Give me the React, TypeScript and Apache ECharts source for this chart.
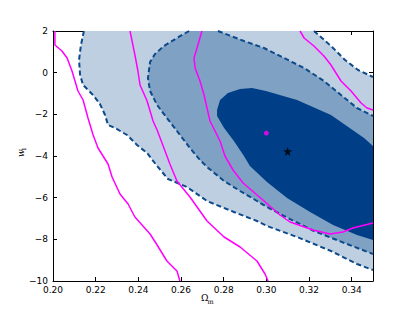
import React, { useEffect, useRef } from "react";
import * as echarts from "echarts";

// Axis ticks
const xTicks = { min: 0.2, max: 0.35, interval: 0.02 };
const yTicks = { min: -10, max: 2, interval: 2 };

// Outer (light) contour: lower-left boundary (dashed) and upper-right boundary (dashed)
const outerLower: number[][] = [
  [0.2145, 2], [0.2131, 1.328], [0.2122, 0.608], [0.2127, -0.112], [0.2141, -0.592],
  [0.2188, -1.072], [0.222, -1.504], [0.2244, -2.032], [0.2258, -2.512], [0.2291, -2.656],
  [0.2347, -2.992], [0.2394, -3.472], [0.2441, -3.856], [0.2488, -4.48], [0.2539, -5.104],
  [0.2595, -5.344], [0.2628, -5.488], [0.2722, -6.16], [0.2848, -6.688], [0.2956, -7.12],
  [0.3003, -7.36], [0.3144, -7.888], [0.3303, -8.56], [0.3425, -9.184], [0.35, -9.472],
];
const outerUpper: number[][] = [
  [0.3223, 2], [0.3261, 1.664], [0.3308, 1.232], [0.3369, 0.608], [0.343, 0.128], [0.35, -0.208],
];

// Middle contour
const midLower: number[][] = [
  [0.2638, 2], [0.2581, 1.664], [0.252, 1.28], [0.2478, 0.896], [0.2455, 0.512],
  [0.2445, -0.256], [0.2455, -0.88], [0.2488, -1.552], [0.2534, -2.176], [0.2581, -2.8],
  [0.2642, -3.616], [0.2689, -4.192], [0.2722, -4.528], [0.2802, -5.2], [0.2877, -5.68],
  [0.2956, -6.16], [0.3003, -6.448], [0.3083, -6.88], [0.3223, -7.6], [0.3378, -8.224],
  [0.35, -8.704],
];
const midUpper: number[][] = [
  [0.2773, 2], [0.2895, 1.52], [0.2989, 1.184], [0.3083, 0.704], [0.3177, 0.224],
  [0.327, -0.4], [0.335, -1.072], [0.3425, -1.696], [0.35, -2.08],
];

// Inner (dark) contour, closed
const inner: number[][] = [
  [0.2769, -1.792], [0.2783, -1.312], [0.282, -0.976], [0.2877, -0.784], [0.2933, -0.736],
  [0.2998, -0.88], [0.3144, -1.312], [0.3303, -2.032], [0.3458, -3.136], [0.35, -3.52],
  [0.35, -8.032], [0.3425, -7.792], [0.3313, -7.312], [0.3205, -6.688], [0.3097, -6.016],
  [0.3003, -5.248], [0.2923, -4.48], [0.2895, -4.0], [0.2848, -3.28], [0.2802, -2.656],
  [0.2769, -2.08],
];

// Magenta contour lines
const magenta1: number[][] = [
  [0.2009, 2], [0.2009, 1.328], [0.2042, 1.04], [0.2066, 0.704], [0.2089, 0.08],
  [0.2117, -0.88], [0.2141, -1.312], [0.2164, -2.176], [0.2188, -2.992], [0.2211, -3.616],
  [0.2258, -4.384], [0.2277, -5.008], [0.2314, -5.824], [0.2352, -6.304], [0.2384, -6.928],
  [0.2455, -7.744], [0.2488, -8.272], [0.2534, -9.04], [0.2581, -9.52], [0.2595, -10],
];
const magenta2: number[][] = [
  [0.2361, 2], [0.2384, 0.848], [0.2398, 0.08], [0.2408, -0.592], [0.2441, -1.36],
  [0.2469, -2.32], [0.2488, -2.752], [0.2534, -4.0], [0.2548, -4.384], [0.2581, -5.2],
  [0.2642, -5.968], [0.2722, -7.12], [0.2802, -7.888], [0.2877, -8.368], [0.2956, -9.04],
  [0.2994, -9.664], [0.3008, -10],
];
const magenta3: number[][] = [
  [0.2698, 2], [0.2675, 1.184], [0.2661, 0.704], [0.2666, 0.224], [0.2689, -0.4],
  [0.2708, -1.072], [0.2736, -2.32], [0.2783, -3.28], [0.2806, -4.0], [0.2844, -4.672],
  [0.2891, -5.296], [0.2984, -6.112], [0.3064, -6.832], [0.3111, -7.168], [0.3219, -7.552],
  [0.3298, -7.744], [0.3359, -7.648], [0.3406, -7.456], [0.35, -7.216],
];
const magenta4: number[][] = [
  [0.3158, 2], [0.3177, 1.664], [0.3223, 1.28], [0.327, 0.8], [0.3303, 0.368],
  [0.335, -0.4], [0.3397, -0.88], [0.3444, -1.456], [0.3472, -1.696], [0.35, -1.792],
];

const magentaPoint: number[][] = [[0.3, -2.9]];
const starPoint: number[][] = [[0.31, -3.78]];

const LIGHT = "#bfcfe2";
const MID = "#7fa1c4";
const DARK = "#003f87";
const DASH = "#0d4a8a";
const MAG = "#ff00ff";

const STAR =
  "path://M0,-10 L2.35,-3.24 L9.51,-3.09 L3.8,1.24 L5.88,8.09 L0,4 L-5.88,8.09 L-3.8,1.24 L-9.51,-3.09 L-2.35,-3.24 Z";

function polySeries(pts: number[][], color: string, z: number) {
  return {
    type: "custom",
    coordinateSystem: "cartesian2d",
    data: [pts[0]],
    clip: true,
    silent: true,
    z,
    renderItem: (_p: any, api: any) => ({
      type: "polygon",
      shape: { points: pts.map((p) => api.coord(p)) },
      style: { fill: color, stroke: "none" },
    }),
  };
}

function lineSeries(pts: number[][], color: string, width: number, dashed: boolean, z: number) {
  return {
    type: "line",
    data: pts,
    showSymbol: false,
    symbol: "none",
    clip: true,
    silent: true,
    z,
    lineStyle: { color, width, type: dashed ? [5, 3] : "solid" },
  };
}

export default function App() {
  const ref = useRef<HTMLDivElement>(null);
  useEffect(() => {
    if (!ref.current) return;
    const chart = echarts.init(ref.current, undefined, { renderer: "svg" });
    const fmtX = (v: number) => (Math.abs(v - 0.35) < 1e-9 ? "" : v.toFixed(2));
    const fmtY = (v: number) => (v < 0 ? "\u2212" + String(-v) : String(v));
    const labelFont = { fontFamily: "DejaVu Sans", fontSize: 9, color: "#000" };
    const axisLine = { show: true, onZero: false, lineStyle: { color: "#000", width: 1 } };
    const tick = { show: true, inside: true, length: 4, lineStyle: { color: "#000", width: 1 } };
    const lightPoly = [...outerLower, ...outerUpper.slice().reverse()];
    const midPoly = [...midLower, ...midUpper.slice().reverse()];
    chart.setOption({
      animation: false,
      backgroundColor: "#fff",
      grid: { left: 53, top: 31, width: 320, height: 250, containLabel: false },
      xAxis: [
        {
          type: "value", position: "bottom", ...xTicks,
          axisLine, axisTick: tick, splitLine: { show: false },
          axisLabel: { ...labelFont, margin: 4, formatter: fmtX },
        },
        {
          type: "value", position: "top", ...xTicks,
          axisLine, axisTick: tick, splitLine: { show: false },
          axisLabel: { show: false },
        },
      ],
      yAxis: [
        {
          type: "value", position: "left", ...yTicks,
          axisLine, axisTick: tick, splitLine: { show: false },
          axisLabel: { ...labelFont, margin: 5, formatter: fmtY },
        },
        {
          type: "value", position: "right", ...yTicks,
          axisLine, axisTick: tick, splitLine: { show: false },
          axisLabel: { show: false },
        },
      ],
      series: [
        polySeries(lightPoly, LIGHT, 1),
        polySeries(midPoly, MID, 2),
        polySeries(inner, DARK, 3),
        lineSeries(outerLower, DASH, 2, true, 4),
        lineSeries(outerUpper, DASH, 2, true, 4),
        lineSeries(midLower, DASH, 2, true, 4),
        lineSeries(midUpper, DASH, 2, true, 4),
        lineSeries(magenta1, MAG, 1.5, false, 5),
        lineSeries(magenta2, MAG, 1.5, false, 5),
        lineSeries(magenta3, MAG, 1.5, false, 5),
        lineSeries(magenta4, MAG, 1.5, false, 5),
        {
          type: "scatter", data: magentaPoint, symbol: "circle", symbolSize: 5,
          itemStyle: { color: MAG }, silent: true, z: 6,
        },
        {
          type: "scatter", data: starPoint, symbol: STAR, symbolSize: 9,
          itemStyle: { color: "#000" }, silent: true, z: 6,
        },
      ],
      graphic: [
        {
          type: "text", left: 201, top: 293, silent: true,
          style: { text: "\u03a9", fontFamily: "DejaVu Serif", fontSize: 9, fill: "#000" },
        },
        {
          type: "text", left: 207.5, top: 298.5, silent: true,
          style: { text: "m", fontFamily: "DejaVu Serif", fontSize: 6.5, fill: "#000" },
        },
        {
          type: "group", x: 21, y: 157, rotation: Math.PI / 2, silent: true,
          children: [
            {
              type: "text", x: 0, y: 0,
              style: {
                text: "w", fontFamily: "DejaVu Serif", fontStyle: "italic", fontSize: 9,
                fill: "#000", textAlign: "left", textVerticalAlign: "middle",
              },
            },
            {
              type: "text", x: 6, y: 2.5,
              style: {
                text: "1", fontFamily: "DejaVu Serif", fontSize: 6, fill: "#000",
                textAlign: "left", textVerticalAlign: "middle",
              },
            },
          ],
        },
      ],
    });
    return () => chart.dispose();
  }, []);
  return (
    <div
      ref={ref}
      style={{ position: "fixed", left: 0, top: 0, width: 415, height: 312 }}
    />
  );
}
